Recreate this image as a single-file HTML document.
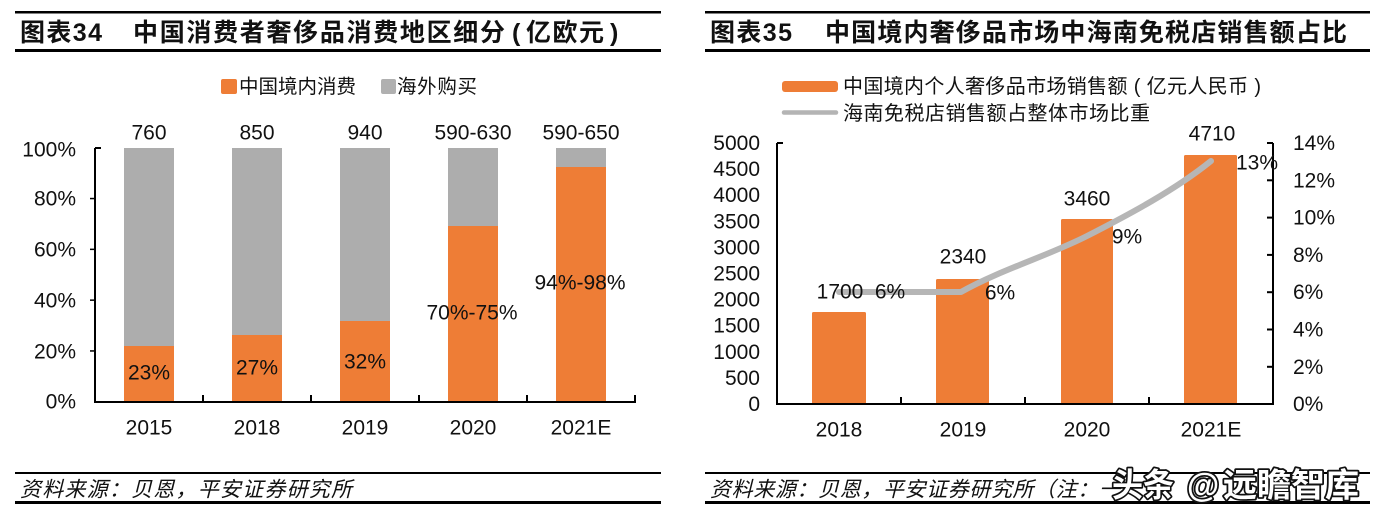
<!DOCTYPE html>
<html>
<head>
<meta charset="utf-8">
<style>
  html,body{margin:0;padding:0;background:#fff;}
  body{width:1375px;height:513px;overflow:hidden;}
  svg{display:block;}
  text{font-family:"Liberation Sans","Noto Sans CJK SC",sans-serif;fill:#111;}
</style>
</head>
<body>
<svg width="1375" height="513" viewBox="0 0 1375 513" xmlns="http://www.w3.org/2000/svg">
  <rect x="0" y="0" width="1375" height="513" fill="#fff"/>

  <!-- ================= LEFT PANEL ================= -->
  <rect x="15" y="11" width="646" height="2.5" fill="#000"/>
  <rect x="15" y="49" width="646" height="3" fill="#000"/>
  <text x="20" y="33" font-size="25" font-weight="bold" dominant-baseline="central" textLength="82" lengthAdjust="spacing">图表34</text>
  <text x="133" y="33" font-size="25" font-weight="bold" dominant-baseline="central" textLength="372" lengthAdjust="spacing">中国消费者奢侈品消费地区细分</text>
  <text x="512" y="33" font-size="25" font-weight="bold" dominant-baseline="central">(</text>
  <text x="526" y="33" font-size="25" font-weight="bold" dominant-baseline="central" textLength="78" lengthAdjust="spacing">亿欧元</text>
  <text x="610" y="33" font-size="25" font-weight="bold" dominant-baseline="central">)</text>

  <!-- legend -->
  <rect x="221" y="79" width="16" height="15" rx="2" fill="#EE7D36"/>
  <text x="239" y="87" font-size="19.5" dominant-baseline="central" textLength="117" lengthAdjust="spacing">中国境内消费</text>
  <rect x="381" y="79" width="15" height="15" rx="2" fill="#B0B0B0"/>
  <text x="397" y="87" font-size="19.5" dominant-baseline="central" textLength="80" lengthAdjust="spacing">海外购买</text>

  <!-- bars -->
  <g>
    <rect x="124" y="148" width="50" height="198" fill="#ADADAD"/>
    <rect x="124" y="346" width="50" height="56" fill="#EE7D36"/>
    <rect x="232" y="148" width="50" height="187" fill="#ADADAD"/>
    <rect x="232" y="335" width="50" height="67" fill="#EE7D36"/>
    <rect x="340" y="148" width="50" height="173" fill="#ADADAD"/>
    <rect x="340" y="321" width="50" height="81" fill="#EE7D36"/>
    <rect x="448" y="148" width="50" height="78" fill="#ADADAD"/>
    <rect x="448" y="226" width="50" height="176" fill="#EE7D36"/>
    <rect x="556" y="148" width="50" height="19" fill="#ADADAD"/>
    <rect x="556" y="167" width="50" height="235" fill="#EE7D36"/>
  </g>

  <!-- axes -->
  <rect x="94" y="148" width="2" height="255" fill="#000"/>
  <rect x="94" y="401" width="542" height="2" fill="#000"/>
  <rect x="95" y="147" width="6" height="2" fill="#000"/>
  <g fill="#000">
    <rect x="90" y="197.8" width="5" height="1.5"/>
    <rect x="90" y="248.6" width="5" height="1.5"/>
    <rect x="90" y="299.4" width="5" height="1.5"/>
    <rect x="90" y="350.2" width="5" height="1.5"/>
    <rect x="202" y="395" width="2" height="7"/>
    <rect x="310" y="395" width="2" height="7"/>
    <rect x="418" y="395" width="2" height="7"/>
    <rect x="526" y="395" width="2" height="7"/>
    <rect x="634" y="395" width="2" height="7"/>
  </g>

  <!-- y labels -->
  <g font-size="21" text-anchor="end">
    <text x="76" y="150" dominant-baseline="central">100%</text>
    <text x="76" y="199" dominant-baseline="central">80%</text>
    <text x="76" y="250" dominant-baseline="central">60%</text>
    <text x="76" y="301" dominant-baseline="central">40%</text>
    <text x="76" y="352" dominant-baseline="central">20%</text>
    <text x="76" y="402" dominant-baseline="central">0%</text>
  </g>

  <!-- x labels -->
  <g font-size="21" text-anchor="middle">
    <text x="149" y="428" dominant-baseline="central">2015</text>
    <text x="257" y="428" dominant-baseline="central">2018</text>
    <text x="365" y="428" dominant-baseline="central">2019</text>
    <text x="473" y="428" dominant-baseline="central">2020</text>
    <text x="581" y="428" dominant-baseline="central">2021E</text>
  </g>

  <!-- top labels -->
  <g font-size="21" text-anchor="middle">
    <text x="149" y="133" dominant-baseline="central">760</text>
    <text x="257" y="133" dominant-baseline="central">850</text>
    <text x="365" y="133" dominant-baseline="central">940</text>
    <text x="473" y="133" dominant-baseline="central">590-630</text>
    <text x="581" y="133" dominant-baseline="central">590-650</text>
  </g>

  <!-- in-bar labels -->
  <g font-size="21" text-anchor="middle">
    <text x="149" y="373" dominant-baseline="central" fill="#2a1208">23%</text>
    <text x="257" y="368" dominant-baseline="central" fill="#2a1208">27%</text>
    <text x="365" y="362" dominant-baseline="central" fill="#2a1208">32%</text>
    <text x="472" y="313" dominant-baseline="central">70%-75%</text>
    <text x="580" y="283" dominant-baseline="central">94%-98%</text>
  </g>

  <!-- footer -->
  <rect x="15" y="472" width="646" height="2" fill="#000"/>
  <rect x="15" y="501" width="646" height="3" fill="#000"/>
  <text x="20" y="490" font-size="21" font-style="italic" fill="#333" dominant-baseline="central" textLength="332" lengthAdjust="spacing">资料来源：贝恩，平安证券研究所</text>

  <!-- ================= RIGHT PANEL ================= -->
  <rect x="705" y="11" width="665" height="2.5" fill="#000"/>
  <rect x="705" y="49" width="665" height="3" fill="#000"/>
  <text x="710" y="33" font-size="25" font-weight="bold" dominant-baseline="central" textLength="82" lengthAdjust="spacing">图表35</text>
  <text x="825" y="33" font-size="25" font-weight="bold" dominant-baseline="central" textLength="522" lengthAdjust="spacing">中国境内奢侈品市场中海南免税店销售额占比</text>

  <!-- legend -->
  <rect x="782" y="81" width="56" height="11" rx="3" fill="#EE7D36"/>
  <text x="843" y="87" font-size="20" dominant-baseline="central" textLength="418" lengthAdjust="spacing">中国境内个人奢侈品市场销售额 ( 亿元人民币 )</text>
  <line x1="784" y1="112.5" x2="836" y2="112.5" stroke="#B4B4B4" stroke-width="4.5" stroke-linecap="round"/>
  <text x="843" y="114" font-size="20" dominant-baseline="central" textLength="307" lengthAdjust="spacing">海南免税店销售额占整体市场比重</text>

  <!-- bars -->
  <rect x="812" y="312" width="54" height="92" rx="1.5" fill="#EE7D36"/>
  <rect x="936" y="279" width="53" height="125" rx="1.5" fill="#EE7D36"/>
  <rect x="1061" y="219" width="52" height="185" rx="1.5" fill="#EE7D36"/>
  <rect x="1184" y="155" width="53" height="249" rx="1.5" fill="#EE7D36"/>

  <!-- line -->
  <path d="M839,292 L961,292 C1000,270 1050,255 1087,236 C1130,214 1175,190 1211,161" fill="none" stroke="#B6B6B6" stroke-width="6" stroke-linejoin="round" stroke-linecap="round"/>

  <!-- axes -->
  <rect x="776" y="143" width="2" height="262" fill="#000"/>
  <rect x="1272" y="143" width="2" height="262" fill="#000"/>
  <rect x="776" y="403" width="498" height="2" fill="#000"/>
  <rect x="777" y="142" width="6" height="2" fill="#000"/>
  <g fill="#000">
    <rect x="900" y="397" width="2" height="7"/>
    <rect x="1024" y="397" width="2" height="7"/>
    <rect x="1148" y="397" width="2" height="7"/>
    <rect x="1267" y="142" width="6" height="2"/>
    <rect x="1267" y="179.3" width="6" height="2"/>
    <rect x="1267" y="216.6" width="6" height="2"/>
    <rect x="1267" y="253.9" width="6" height="2"/>
    <rect x="1267" y="291.2" width="6" height="2"/>
    <rect x="1267" y="328.5" width="6" height="2"/>
    <rect x="1267" y="365.8" width="6" height="2"/>
  </g>

  <!-- left y labels -->
  <g font-size="21" text-anchor="end">
    <text x="760" y="143.5" dominant-baseline="central">5000</text>
    <text x="760" y="169.6" dominant-baseline="central">4500</text>
    <text x="760" y="195.7" dominant-baseline="central">4000</text>
    <text x="760" y="221.8" dominant-baseline="central">3500</text>
    <text x="760" y="247.9" dominant-baseline="central">3000</text>
    <text x="760" y="274" dominant-baseline="central">2500</text>
    <text x="760" y="300.1" dominant-baseline="central">2000</text>
    <text x="760" y="326.2" dominant-baseline="central">1500</text>
    <text x="760" y="352.3" dominant-baseline="central">1000</text>
    <text x="760" y="378.4" dominant-baseline="central">500</text>
    <text x="760" y="404.5" dominant-baseline="central">0</text>
  </g>

  <!-- right y labels -->
  <g font-size="21" text-anchor="start">
    <text x="1293" y="143.5" dominant-baseline="central">14%</text>
    <text x="1293" y="180.8" dominant-baseline="central">12%</text>
    <text x="1293" y="218.1" dominant-baseline="central">10%</text>
    <text x="1293" y="255.4" dominant-baseline="central">8%</text>
    <text x="1293" y="292.7" dominant-baseline="central">6%</text>
    <text x="1293" y="330" dominant-baseline="central">4%</text>
    <text x="1293" y="367.3" dominant-baseline="central">2%</text>
    <text x="1293" y="404.6" dominant-baseline="central">0%</text>
  </g>

  <!-- x labels -->
  <g font-size="21" text-anchor="middle">
    <text x="839" y="430" dominant-baseline="central">2018</text>
    <text x="963" y="430" dominant-baseline="central">2019</text>
    <text x="1087" y="430" dominant-baseline="central">2020</text>
    <text x="1211" y="430" dominant-baseline="central">2021E</text>
  </g>

  <!-- data labels -->
  <g font-size="21" text-anchor="middle">
    <text x="840" y="292" dominant-baseline="central">1700</text>
    <text x="890" y="292" dominant-baseline="central">6%</text>
    <text x="963" y="257" dominant-baseline="central">2340</text>
    <text x="1000" y="293" dominant-baseline="central">6%</text>
    <text x="1087" y="199" dominant-baseline="central">3460</text>
    <text x="1127" y="237" dominant-baseline="central">9%</text>
    <text x="1212" y="134" dominant-baseline="central">4710</text>
    <text x="1257" y="163" dominant-baseline="central">13%</text>
  </g>

  <!-- footer -->
  <rect x="705" y="472" width="665" height="2" fill="#000"/>
  <rect x="705" y="501" width="665" height="3" fill="#000"/>
  <text x="710" y="490" font-size="21" font-style="italic" fill="#333" dominant-baseline="central" textLength="410" lengthAdjust="spacing">资料来源：贝恩，平安证券研究所（注：一</text>

  <!-- watermark -->
  <g font-size="33" font-weight="bold" stroke="#111" stroke-width="3.5" stroke-linejoin="round" style="paint-order:stroke">
    <text x="1112" y="485" dominant-baseline="central" textLength="62" lengthAdjust="spacingAndGlyphs" style="fill:#fff">头条</text>
    <text x="1187" y="485" dominant-baseline="central" style="fill:#fff">@</text>
    <text x="1223" y="485" dominant-baseline="central" textLength="136" lengthAdjust="spacingAndGlyphs" style="fill:#fff">远瞻智库</text>
  </g>
</svg>
</body>
</html>
